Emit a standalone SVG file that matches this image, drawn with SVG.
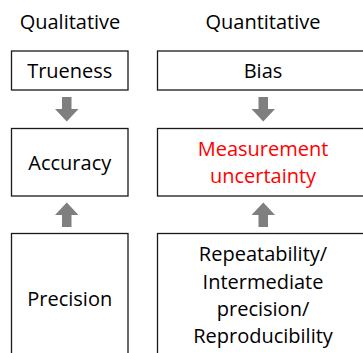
<svg xmlns="http://www.w3.org/2000/svg" width="363" height="353" viewBox="0 0 363 353">
<style>
.box{fill:#fff;stroke:#1a1a1a;stroke-width:1.3}
.t{font-family:"Open Sans","Liberation Sans",sans-serif;font-size:20px;fill:#000;text-anchor:middle}
.red{fill:#ff0000}
.arr{fill:#7f7f7f}
</style>
<rect width="363" height="353" fill="#fff"/>
<text class="t" x="70" y="29">Qualitative</text>
<text class="t" x="263" y="29">Quantitative</text>
<g id="trueness"><rect class="box" x="11.5" y="51" width="116.5" height="39"/><text class="t" x="69.75" y="78">Trueness</text></g>
<g id="bias"><rect class="box" x="157.5" y="51" width="211" height="39"/><text class="t" x="263" y="78">Bias</text></g>
<g id="accuracy"><rect class="box" x="11.5" y="128.5" width="116.5" height="67.5"/><text class="t" x="69.75" y="170">Accuracy</text></g>
<g id="uncertainty"><rect class="box" x="157.5" y="128.5" width="211" height="67.5"/><text class="t red" x="263" y="156">Measurement</text><text class="t red" x="263" y="183">uncertainty</text></g>
<g id="precision"><rect class="box" x="11.5" y="233.5" width="116.5" height="130"/><text class="t" x="69.75" y="306">Precision</text></g>
<g id="repeatability"><rect class="box" x="157.5" y="233.5" width="211" height="130"/><text class="t" x="263" y="261">Repeatability/</text><text class="t" x="263" y="288.5">Intermediate</text><text class="t" x="263" y="316">precision/</text><text class="t" x="263" y="343">Reproducibility</text></g>
<g id="connectors">
<polygon class="arr" points="62,97 71.5,97 71.5,109 78.5,109 66.75,121.5 55,109 62,109"/>
<polygon class="arr" points="258.5,97 268,97 268,109 275,109 263.25,121.5 251.5,109 258.5,109"/>
<polygon class="arr" points="62,227 71.5,227 71.5,215 78.5,215 66.75,202.5 55,215 62,215"/>
<polygon class="arr" points="258.5,227 268,227 268,215 275,215 263.25,202.5 251.5,215 258.5,215"/>
</g>
</svg>
